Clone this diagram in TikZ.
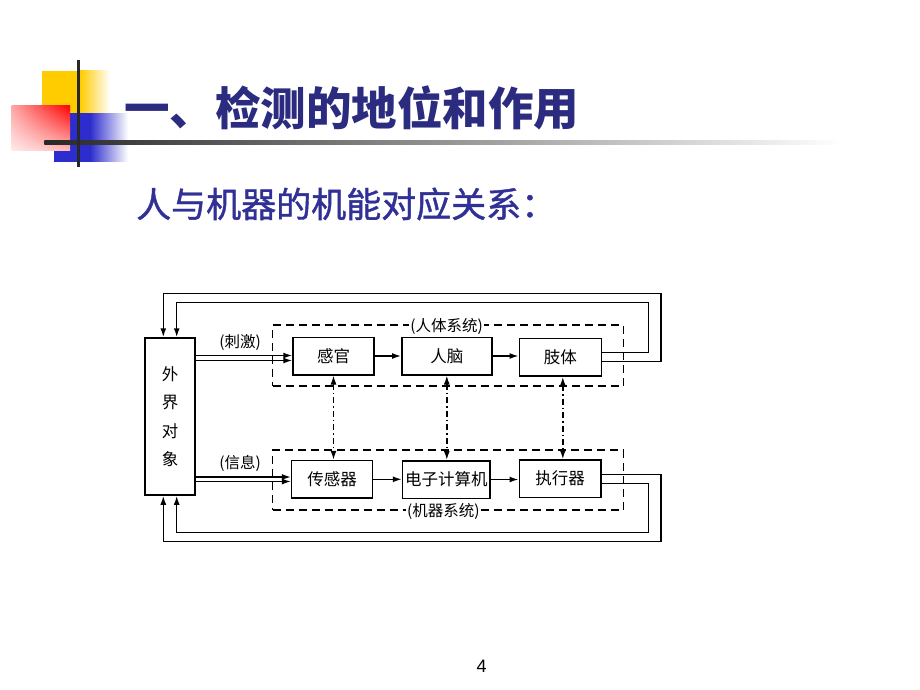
\documentclass[tikz,border=0pt]{standalone}
\usepackage{fontspec}
\setmainfont{Liberation Sans}
\newfontfamily\cjk{Noto Sans CJK SC}
\newfontfamily\cjkm{Noto Sans CJK SC}[FakeBold=1.2]
\usetikzlibrary{arrows.meta,shadings}
\definecolor{titleblue}{RGB}{43,43,128}
\definecolor{subblue}{RGB}{48,48,150}
\definecolor{sqyellow}{RGB}{255,204,0}
\definecolor{sqblue}{RGB}{45,45,205}
\definecolor{redul}{RGB}{255,165,165}
\definecolor{redll}{RGB}{255,232,232}
\definecolor{redlr}{RGB}{255,185,185}
\definecolor{linedark}{RGB}{40,40,40}
\tikzset{
  box/.style={draw, line width=1.5pt, inner sep=0pt, minimum height=37.5pt,
    font=\cjk\fontsize{16.5}{18}\selectfont},
  dashbox/.style={draw, line width=1.5pt, dash pattern=on 8pt off 5pt, inner sep=0pt},
  lab/.style={inner sep=1pt, font=\cjk\fontsize{15.5}{17}\selectfont},
  syslab/.style={fill=white, inner sep=1pt, font=\cjk\fontsize{15.5}{17}\selectfont},
  arr/.style={line width=1.5pt, -{Latex[length=9pt,width=6pt]}},
  fb/.style={line width=1.5pt, -{Latex[length=9pt,width=6pt]}},
  vd/.style={line width=1.5pt, dash pattern=on 6pt off 3pt on 1.5pt off 3pt,
    {Latex[length=9pt,width=6pt]}-{Latex[length=9pt,width=6pt]}}
}
\begin{document}
\begin{tikzpicture}[x=1pt,y=-1pt]
\useasboundingbox (0,0) rectangle (920,690);
\fill[white] (0,0) rectangle (920,690);

% decoration squares
\fill[sqyellow] (41.7,70.7) rectangle (80,113.3);
\shade[left color=sqyellow, right color=white] (80,70.7) rectangle (110,113.3);
\fill[sqblue] (54.3,113.3) rectangle (90,161.7);
\shade[left color=sqblue, right color=white] (90,113.3) rectangle (128,161.7);
\shade[upper right=red, upper left=redul, lower left=redll, lower right=redlr] (11.7,105.7) rectangle (70,150);
\shade[left color=linedark, middle color=black!40, right color=white] (44.3,140.5) rectangle (843,144);
\draw[line width=3pt, linedark] (78.3,60) -- (78.3,166.7);

% title
\node[anchor=base west, inner sep=0pt, text=titleblue, font=\cjk\bfseries\fontsize{45.5}{50}\selectfont] (title) at (124,125.6) {一、检测的地位和作用};
\node[anchor=base west, inner sep=0pt, text=subblue, font=\cjkm\fontsize{35}{40}\selectfont] (sub) at (136,217.3) {人与机器的机能对应关系：};

% dashed system boxes
\node[dashbox, minimum width=350.6pt, minimum height=61pt] (HS) at (448,355.5) {};
\node[dashbox, minimum width=350.6pt, minimum height=60pt] (MS) at (448,480) {};
\node[syslab] (hsl) at (446.7,326.7) {(人体系统)};
\node[syslab] (msl) at (443.3,511.7) {(机器系统)};

% blocks
\node[box, minimum width=50pt, minimum height=157pt, align=center,
  font=\cjk\fontsize{16.5}{28.3}\selectfont] (L) at (170,416.5) {外\\界\\对\\象};
\node[box, minimum width=81pt] (S1) at (333.5,356) {感官};
\node[box, minimum width=90pt] (B1) at (446.8,356) {人脑};
\node[box, minimum width=82pt] (L1) at (560.3,357.3) {肢体};
\node[box, minimum width=81pt] (S2) at (332.2,479.3) {传感器};
\node[box, minimum width=87.5pt] (C2) at (446.3,479.5) {电子计算机};
\node[box, minimum width=81.5pt] (E2) at (560,478.7) {执行器};

% labels
\node[lab] (ci) at (240,342.7) {(刺激)};
\node[lab] (xi) at (240,463.3) {(信息)};

% inputs
\draw[arr] ([yshift=0.5pt]S1.west -| L.east) -- ([yshift=0.5pt]S1.west);
\draw[arr] ([yshift=-4.5pt]S1.west -| L.east) -- ([yshift=-4.5pt]S1.west);
\draw[arr] ([yshift=2.3pt]S2.west -| L.east) -- ([yshift=2.3pt]S2.west);
\draw[arr] ([yshift=-2.2pt]S2.west -| L.east) -- ([yshift=-2.2pt]S2.west);

% chain arrows
\draw[arr] (S1.east) -- (S1.east -| B1.west);
\draw[arr] (B1.east) -- (B1.east -| L1.west);
\draw[arr] (S2.east) -- (S2.east -| C2.west);
\draw[arr] (C2.east) -- (C2.east -| E2.west);

% vertical correspondences
\draw[vd] (S1.south) -- (S1.south |- S2.north);
\draw[vd] (B1.south) -- (B1.south |- C2.north);
\draw[vd] ([xshift=2.5pt]L1.south) -- ([xshift=2.5pt]L1.south |- E2.north);

% feedback loops
\coordinate (ta) at (648.3,302.7);
\coordinate (tb) at (661,293.3);
\coordinate (ba) at (648.3,532.7);
\coordinate (bb) at (661,541.7);
\draw[fb] ([yshift=5pt]L1.east) -| (ta) -| ([xshift=6.7pt]L.north);
\draw[fb] ([yshift=-4pt]L1.east) -| (tb) -| ([xshift=-6.7pt]L.north);
\draw[fb] ([yshift=4pt]E2.east) -| (bb) -| ([xshift=-6.7pt]L.south);
\draw[fb] ([yshift=-5pt]E2.east) -| (ba) -| ([xshift=6.7pt]L.south);

% page number
\node[inner sep=0pt, font=\fontsize{18}{20}\selectfont] (pg) at (481.7,666.7) {4};
\end{tikzpicture}
\end{document}
